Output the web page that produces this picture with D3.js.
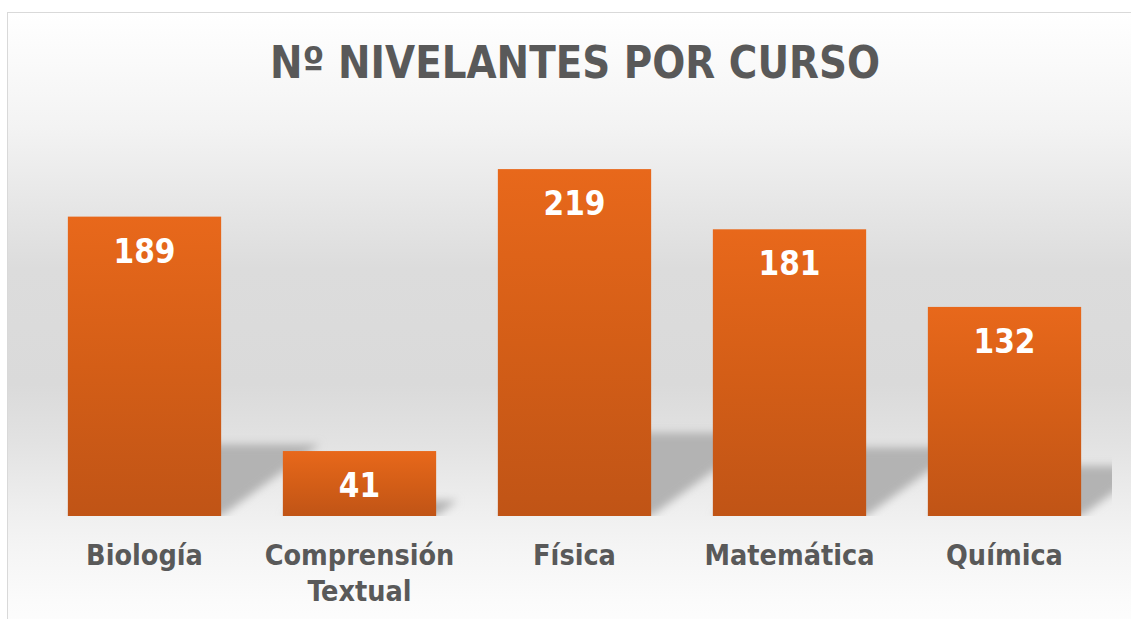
<!DOCTYPE html>
<html>
<head>
<meta charset="utf-8">
<script src="https://cdn.jsdelivr.net/npm/d3@7"></script>
<style>
  body { margin: 0; background: #fff; }
  text { font-family: Tahoma, "DejaVu Sans Condensed", "DejaVu Sans", sans-serif; font-weight: bold; }
</style>
</head>
<body>
<div id="chart"></div>
<script>
// nivelantes por curso - simple bar chart with office-like shading
const categories = ["Biología", "Comprensión Textual", "Física", "Matemática", "Química"];
const values = [189, 41, 219, 181, 132];
const titleText = "Nº NIVELANTES POR CURSO";

const W = 1131, H = 619;
const plot = {left: 37, right: 1112, top: 120, bottom: 516};

const svg = d3.select("#chart").append("svg")
    .attr("width", W)
    .attr("height", H);

const defs = svg.append("defs");

// chart area background gradient (rect runs y 12 -> 652)
let bg = defs.append("linearGradient")
    .attr("id", "bg").attr("x1", 0).attr("y1", 0).attr("x2", 0).attr("y2", 1);
[[0, "#ffffff"], [0.18, "#f3f3f3"], [0.4, "#dcdcdc"], [0.58, "#dadada"], [0.67, "#e2e2e2"],
 [0.78, "#efefef"], [0.83, "#f4f4f4"], [0.92, "#fbfbfb"], [1, "#ffffff"]]
    .forEach(s => bg.append("stop").attr("offset", s[0]).attr("stop-color", s[1]));

let barGrad = defs.append("linearGradient")
    .attr("id", "barGrad").attr("x1", 0).attr("y1", 0).attr("x2", 0).attr("y2", 1);
[[0, "#e8681b"], [0.5, "#d45e17"], [1, "#c05416"]]
    .forEach(s => barGrad.append("stop").attr("offset", s[0]).attr("stop-color", s[1]));

defs.append("filter").attr("id", "blur")
    .attr("x", -0.5).attr("y", -0.5).attr("width", 2).attr("height", 2)
    .append("feGaussianBlur").attr("stdDeviation", 4);

defs.append("clipPath").attr("id", "plotClip")
    .append("rect")
    .attr("x", plot.left).attr("y", plot.top)
    .attr("width", plot.right - plot.left).attr("height", plot.bottom - plot.top);

svg.append("rect")
    .attr("x", 7.5).attr("y", 12.5)
    .attr("width", 1140).attr("height", 640)
    .attr("fill", "url(#bg)")
    .attr("stroke", "#d9d9d9")
    .attr("stroke-width", 1);

const x = d3.scaleBand()
    .domain(categories)
    .range([plot.left, plot.right])
    .paddingInner(0.287)
    .paddingOuter(0.1435);

const y = d3.scaleLinear()
    .domain([0, 250])
    .range([plot.bottom, plot.top]);

// perspective shadows behind the bars
const shadows = svg.append("g").attr("clip-path", "url(#plotClip)");
shadows.selectAll("path")
    .data(categories)
    .enter()
    .append("path")
    .attr("d", (d, i) => {
        let L = x(d), R = x(d) + x.bandwidth();
        let h = y(0) - y(values[i]);
        let dx = h * 0.33, dy = h * 0.24;
        return "M" + L + "," + y(0) + "L" + R + "," + y(0)
            + "L" + (R + dx) + "," + (y(0) - dy) + "L" + (L + dx) + "," + (y(0) - dy) + "Z";
    })
    .attr("fill", "#b3b3b3")
    .attr("filter", "url(#blur)");

svg.selectAll(".bar")
    .data(categories)
    .enter()
    .append("rect")
    .attr("class", "bar")
    .attr("x", d => x(d))
    .attr("y", (d, i) => y(values[i]))
    .attr("width", x.bandwidth())
    .attr("height", (d, i) => y(0) - y(values[i]))
    .attr("fill", "url(#barGrad)");

svg.selectAll(".val")
    .data(categories)
    .enter()
    .append("text")
    .attr("class", "val")
    .attr("x", d => x(d) + x.bandwidth() / 2)
    .attr("y", (d, i) => y(values[i]) + 46)
    .attr("text-anchor", "middle")
    .attr("fill", "#ffffff")
    .style("font-size", "33px")
    .text((d, i) => values[i]);

// category labels, split on spaces like excel wraps them
let labels = svg.selectAll(".cat")
    .data(categories)
    .enter()
    .append("text")
    .attr("class", "cat")
    .attr("text-anchor", "middle")
    .attr("fill", "#595959")
    .style("font-size", "28.5px");

labels.selectAll("tspan")
    .data(d => d.split(" ").map(w => ({w: w, c: d})))
    .enter()
    .append("tspan")
    .attr("x", d => x(d.c) + x.bandwidth() / 2)
    .attr("y", (d, i) => 565 + i * 36)
    .text(d => d.w);

svg.append("text")
    .attr("x", 575)
    .attr("y", 78)
    .attr("text-anchor", "middle")
    .attr("fill", "#595959")
    .style("font-size", "44px")
    .attr("textLength", 610)
    .attr("lengthAdjust", "spacingAndGlyphs")
    .text(titleText);
</script>
</body>
</html>
